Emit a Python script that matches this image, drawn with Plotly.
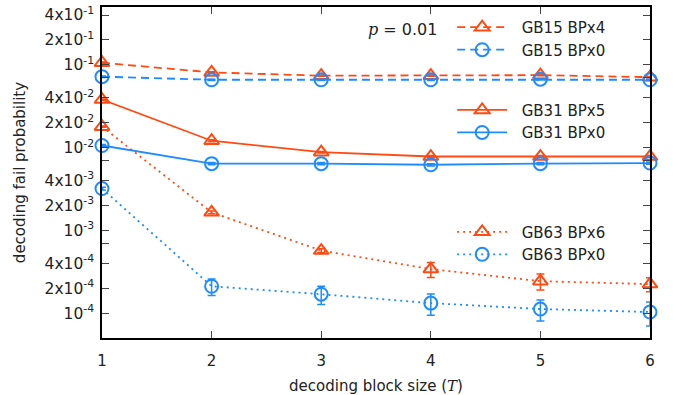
import plotly.graph_objects as go

T = [1, 2, 3, 4, 5, 6]

gb15_bp4 = [0.106, 0.081, 0.074, 0.074, 0.075, 0.071]
gb15_bp0 = [0.072, 0.066, 0.066, 0.066, 0.067, 0.066]
gb31_bp5 = [0.038, 0.0121, 0.0088, 0.0078, 0.0078, 0.0078]
gb31_bp0 = [0.0106, 0.0064, 0.0064, 0.0062, 0.0064, 0.0065]
gb63_bp6 = [0.0179, 0.00165, 5.7e-4, 3.4e-4, 2.43e-4, 2.24e-4]
gb63_bp0 = [0.0032, 2.11e-4, 1.69e-4, 1.32e-4, 1.12e-4, 1.03e-4]

err15_bp4 = [0.002, 0.0015, 0.0012, 0.0012, 0.0012, 0.0012]
err15_bp0 = [0.0015, 0.0012, 0.0012, 0.0012, 0.0012, 0.0012]
err31_bp5 = [0.0006, 0.0003, 0.0002, 0.0002, 0.0002, 0.0002]
err31_bp0 = [0.0003, 0.0002, 0.0002, 0.0002, 0.0002, 0.0002]
err63_bp6 = [0.0003, 0.00006, 0.00003, 0.00007, 0.000053, 0.000043]
err63_bp0 = [0.00012, 0.000048, 0.000042, 0.000038, 0.000032, 0.000033]

ytick_vals = [4e-1, 2e-1, 1e-1, 7e-2, 4e-2, 2e-2, 1e-2, 7e-3, 4e-3, 2e-3, 1e-3, 7e-4, 4e-4, 2e-4, 1e-4]
ytick_text = ["4x10<sup>-1</sup>", "2x10<sup>-1</sup>", "10<sup>-1</sup>", "",
              "4x10<sup>-2</sup>", "2x10<sup>-2</sup>", "10<sup>-2</sup>", "",
              "4x10<sup>-3</sup>", "2x10<sup>-3</sup>", "10<sup>-3</sup>", "",
              "4x10<sup>-4</sup>", "2x10<sup>-4</sup>", "10<sup>-4</sup>"]

ORANGE = "#ff4a12"
BLUE = "#1e8cff"
FONT = "DejaVu Sans"
GAP = "\u00a0\u00a0"

series = [
    ("GB15 BPx4", gb15_bp4, err15_bp4, ORANGE, "triangle-up-open", "8px,5px", "legend"),
    ("GB15 BPx0", gb15_bp0, err15_bp0, BLUE, "circle-open", "8px,5px", "legend"),
    ("GB31 BPx5", gb31_bp5, err31_bp5, ORANGE, "triangle-up-open", "solid", "legend2"),
    ("GB31 BPx0", gb31_bp0, err31_bp0, BLUE, "circle-open", "solid", "legend2"),
    ("GB63 BPx6", gb63_bp6, err63_bp6, ORANGE, "triangle-up-open", "2px,4px", "legend3"),
    ("GB63 BPx0", gb63_bp0, err63_bp0, BLUE, "circle-open", "2px,4px", "legend3"),
]

fig = go.Figure()
for name, vals, errs, col, sym, dash, leg in series:
    fig.add_trace(go.Scatter(
        x=T, y=vals, name=GAP + name, mode="lines+markers",
        line=dict(color=col, width=1.8, dash=dash),
        marker=dict(symbol=sym, size=13, color=col, line=dict(width=2, color=col)),
        error_y=dict(type="data", array=errs, color=col, thickness=1.5, width=4),
        cliponaxis=False, legend=leg,
    ))

legend_common = dict(bgcolor="rgba(0,0,0,0)", font=dict(family=FONT, size=15, color="#222"),
                     xanchor="left", yanchor="top", itemwidth=50, tracegroupgap=0)
fig.update_layout(
    width=673, height=395,
    margin=dict(l=102, r=23, t=7, b=57),
    paper_bgcolor="white", plot_bgcolor="white",
    font=dict(family=FONT, size=15, color="#222"),
    legend=dict(x=0.639, y=0.988, **legend_common),
    legend2=dict(x=0.639, y=0.738, **legend_common),
    legend3=dict(x=0.639, y=0.370, **legend_common),
    xaxis=dict(range=[1, 6], tickvals=T, ticktext=[str(t) for t in T], automargin=False,
               ticks="inside", ticklen=7, tickcolor="#444", showline=True, linecolor="black",
               linewidth=1.5, mirror="ticks", showgrid=False, zeroline=False,
               tickfont=dict(size=15), ticklabelstandoff=8,
               title=dict(text="decoding block size (<span style='font-family:DejaVu Serif'><i>T</i></span>)",
                          font=dict(size=15), standoff=13)),
    yaxis=dict(type="log", range=[-4.301, -0.301], tickvals=ytick_vals, ticktext=ytick_text,
               automargin=False,
               ticks="inside", ticklen=7, tickcolor="#444", showline=True, linecolor="black",
               linewidth=1.5, mirror="ticks", showgrid=False, zeroline=False,
               tickfont=dict(size=15.5), ticklabelstandoff=3,
               title=dict(text="decoding fail probability", font=dict(size=15), standoff=15)),
    annotations=[dict(text="<span style='font-family:DejaVu Serif'><i>p</i></span> = 0.01",
                      xref="paper", yref="paper", x=0.615, y=0.931, xanchor="right", yanchor="middle",
                      showarrow=False, font=dict(family=FONT, size=16, color="#222"))],
)

fig.write_html("out.html", post_script="document.body.style.margin='0';",
               config={"displayModeBar": False})
